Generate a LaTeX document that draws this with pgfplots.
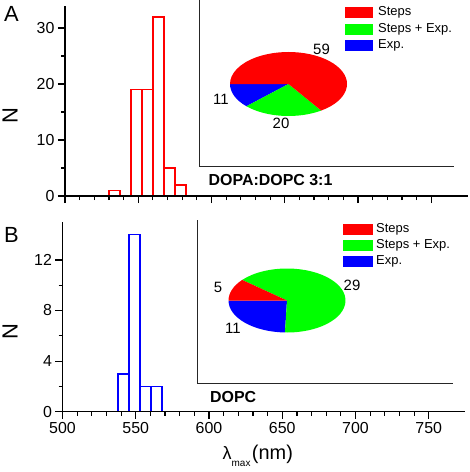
\documentclass[border=0pt]{standalone}
\usepackage{fontspec}
\setmainfont{Liberation Sans}
\usepackage{pgfplots}
\pgfplotsset{compat=1.18}
\definecolor{pgreen}{RGB}{0,255,0}
\definecolor{pred}{RGB}{255,0,0}
\definecolor{pblue}{RGB}{0,0,255}
\pgfplotsset{panel/.style={
  x=1.465bp, xmin=500, xmax=775, ymin=0,
  axis x line=bottom, axis y line=left,
  axis line style={-, line width=1.2pt, black},
  tick align=outside, major tick length=7bp, minor tick length=4bp,
  every tick/.style={black, line width=1.2pt},
  xtick={500,550,...,750}, minor x tick num=4, minor y tick num=1,
  tick label style={font=\fontsize{16}{19}\selectfont},
  /pgf/number format/assume math mode=true,
  axis on top,
}}
% pie slice: cx, cy, start, end, color
\newcommand{\pieslice}[5]{%
  \fill[#5] (#1,#2) -- ++(#3:58.5bp and 32bp) arc[start angle=#3, end angle=#4, x radius=58.5bp, y radius=32bp] -- cycle;}
\begin{document}
\begin{tikzpicture}
\useasboundingbox (0,0) rectangle (470bp,-472bp);
% ---------------- Panel A
\begin{axis}[panel, at={(65bp,-196bp)}, anchor=south west, y=5.6bp, ymax=34,
  ytick={0,10,20,30}, xticklabels={}]
\addplot[ybar, bar width=7.5, bar shift=0pt, draw=pred, fill=white, line width=1.5bp]
  coordinates {(533.75,1) (548.75,19) (556.25,19) (563.75,32) (571.25,5) (578.75,2)};
\end{axis}
% ---------------- Panel B
\begin{axis}[panel, at={(62.5bp,-411.7bp)}, anchor=south west, y=12.65bp, ymax=15,
  ytick={0,4,8,12}]
\addplot[ybar, bar width=7.5, bar shift=0pt, draw=pblue, fill=white, line width=1.5bp]
  coordinates {(541.75,3) (549.25,14) (556.75,2) (564.25,2)};
\end{axis}
% labels
\node[rotate=90, font=\fontsize{22}{24}\selectfont] at (10bp,-115.5bp) {N};
\node[rotate=90, font=\fontsize{22}{24}\selectfont] at (10bp,-331.5bp) {N};
\node[font=\fontsize{22}{24}\selectfont] at (11.5bp,-14bp) {A};
\node[font=\fontsize{22}{24}\selectfont] at (11.5bp,-235bp) {B};
\node[anchor=base west, inner sep=0pt] at (222.5bp,-459bp)
  {{\fontsize{18}{20}\selectfont λ}\raisebox{-7bp}{\fontsize{10}{12}\selectfont max}\hspace{1.5bp}{\fontsize{20}{22}\selectfont (nm)}};
\node[anchor=west, inner sep=0pt, font=\fontsize{16}{18}\bfseries] at (208.5bp,-180.5bp) {DOPA:DOPC 3:1};
\node[anchor=west, inner sep=0pt, font=\fontsize{16}{18}\bfseries] at (210bp,-397.5bp) {DOPC};
% inset frames
\draw[black!85, line width=0.8bp] (199bp,0) -- (199bp,-166bp) -- (454bp,-166bp);
\draw[black!85, line width=0.8bp] (197bp,-220bp) -- (197bp,-383bp) -- (453bp,-383bp);
% ---- Pie A: Exp 11, Steps+Exp 20, Steps 59 (total 90)
\pgfmathsetmacro\ta{180+360*11/90}
\pgfmathsetmacro\tb{\ta+360*20/90}
\pieslice{288.5bp}{-84bp}{180}{\ta}{pblue}
\pieslice{288.5bp}{-84bp}{\ta}{\tb}{pgreen}
\pieslice{288.5bp}{-84bp}{\tb}{540}{pred}
\begin{scope}[font=\fontsize{15}{17}\selectfont]
\node at (321.5bp,-49bp) {59};
\node at (221bp,-99bp) {11};
\node at (281bp,-123bp) {20};
\end{scope}
% ---- Pie B: Exp 11, Steps+Exp 29, Steps 5 (total 45)
\pgfmathsetmacro\ua{180+360*11/45}
\pgfmathsetmacro\ub{\ua+360*29/45}
\pieslice{287bp}{-300.5bp}{180}{\ua}{pblue}
\pieslice{287bp}{-300.5bp}{\ua}{\ub}{pgreen}
\pieslice{287bp}{-300.5bp}{\ub}{540}{pred}
\begin{scope}[font=\fontsize{15}{17}\selectfont]
\node at (218bp,-287bp) {5};
\node at (352bp,-285bp) {29};
\node at (233bp,-328bp) {11};
\end{scope}
% ---- legends
\begin{scope}[font=\fontsize{13}{15}\selectfont]
\fill[pred]   (345bp,-7.2bp)  rectangle (373bp,-18.2bp);
\fill[pgreen] (345bp,-23.5bp) rectangle (373bp,-34.5bp);
\fill[pblue]  (345bp,-39.5bp) rectangle (373bp,-50.5bp);
\node[anchor=west, inner sep=0pt] at (378bp,-12.7bp) {Steps};
\node[anchor=west, inner sep=0pt] at (378bp,-29bp) {Steps + Exp.};
\node[anchor=west, inner sep=0pt] at (378bp,-45bp) {Exp.};
\fill[pred]   (343bp,-223.8bp) rectangle (373bp,-234.8bp);
\fill[pgreen] (343bp,-240.2bp) rectangle (373bp,-251.2bp);
\fill[pblue]  (343bp,-256.2bp) rectangle (373bp,-267.2bp);
\node[anchor=west, inner sep=0pt] at (376bp,-229.3bp) {Steps};
\node[anchor=west, inner sep=0pt] at (376bp,-245.7bp) {Steps + Exp.};
\node[anchor=west, inner sep=0pt] at (376bp,-261.7bp) {Exp.};
\end{scope}
\end{tikzpicture}
\end{document}
